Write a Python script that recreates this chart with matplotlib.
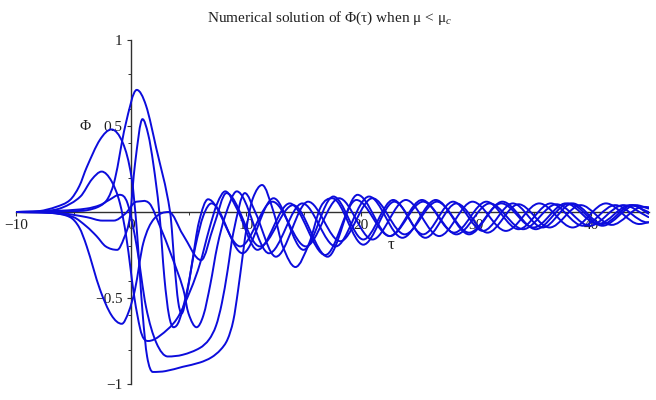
import numpy as np
import matplotlib
matplotlib.use("Agg")
import matplotlib.pyplot as plt
from matplotlib.path import Path
from matplotlib.patches import PathPatch

# ---- data (tau, Phi) ----
t1 = [-10, -8, -6.5, -5.3, -4.5, -3.85, -2.7, -1.7, -0.7, 0.05, 0.5, 1.0, 1.4, 1.9, 3.0, 4.5, 6.0, 7.0, 7.8, 8.4, 8.9, 9.3, 9.7, 10.1, 10.6, 11.4, 12.4, 13.2, 14.3, 15.5, 16.5, 17.5, 20.2, 22.9, 25.6, 28.3, 31.0, 33.7, 36.4, 39.1, 41.8, 44.5, 45]
p1 = [0, 0.005, 0.03, 0.07, 0.15, 0.26, 0.42, 0.48, 0.40, 0.20, -0.10, -0.58, -0.84, -0.93, -0.925, -0.90, -0.875, -0.845, -0.80, -0.74, -0.63, -0.46, -0.26, -0.07, 0.08, 0.157, 0.0, -0.2, -0.32, -0.18, 0.03, 0.08, -0.19, 0.06, -0.15, 0.05, -0.12, 0.045, -0.09, 0.04, -0.075, 0.03, 0.028]

t2 = [-10, -7.5, -6, -4.4, -3.4, -2.55, -1.7, -0.96, -0.4, 0.3, 0.8, 1.1, 1.5, 2.5, 4.0, 5.2, 6.0, 6.8, 7.5, 8.2, 9.2, 11.0, 13.8, 16.9, 19.6, 22.5, 25.4, 28.3, 31.2, 34.1, 37.0, 39.9, 42.8, 45]
p2 = [0, 0.005, 0.025, 0.09, 0.19, 0.235, 0.18, 0.05, -0.15, -0.5, -0.68, -0.735, -0.75, -0.72, -0.62, -0.45, -0.3, -0.1, 0.05, 0.12, 0.02, -0.22, 0.05, -0.25, 0.07, -0.14, 0.06, -0.13, 0.05, -0.10, 0.045, -0.08, 0.04, -0.03]

t3 = [-10, -6, -3.85, -2.7, -1.9, -1.0, -0.3, 0.5, 1.3, 2.2, 3.2, 4.5, 6.0, 6.8, 7.4, 7.9, 8.4, 8.9, 9.9, 10.8, 12.6, 15.4, 18.2, 21.0, 23.8, 26.6, 29.4, 32.2, 35.0, 37.8, 40.6, 43.4, 45]
p3 = [0, 0.008, 0.02, 0.04, 0.07, 0.10, 0.05, -0.2, -0.55, -0.76, -0.84, -0.83, -0.79, -0.74, -0.66, -0.53, -0.34, -0.12, 0.11, 0.0, -0.26, 0.06, -0.17, 0.08, -0.13, 0.06, -0.12, 0.05, -0.09, 0.05, -0.07, 0.04, 0.0]

t4 = [-10, -7, -5, -3.85, -2.7, -2.0, -1.4, -0.5, 0.5, 1.3, 2.2, 3.4, 3.8, 4.1, 4.4, 4.8, 5.3, 5.9, 6.7, 9.5, 12.3, 15.2, 18.1, 21.0, 23.9, 26.8, 29.7, 32.6, 35.5, 38.4, 41.3, 44.2, 45]
p4 = [0, 0.002, 0.005, 0.01, 0.035, 0.08, 0.19, 0.50, 0.71, 0.62, 0.37, 0.0, -0.32, -0.52, -0.59, -0.5, -0.3, -0.06, 0.074, -0.2, 0.06, -0.2, 0.08, -0.16, 0.07, -0.14, 0.06, -0.11, 0.05, -0.09, 0.05, -0.07, -0.06]

t5 = [-10, -7, -5, -3.85, -3.0, -2.2, -1.2, -0.6, -0.1, 0.35, 1.0, 1.5, 1.94, 2.46, 2.9, 3.3, 3.7, 4.2, 4.9, 5.6, 6.3, 7.0, 9.7, 12.4, 15.0, 17.6, 20.2, 22.8, 25.4, 28.0, 30.6, 33.2, 35.8, 38.4, 41.0, 43.6, 45]
p5 = [0, -0.005, -0.03, -0.085, -0.14, -0.2, -0.22, -0.15, -0.03, 0.28, 0.54, 0.45, 0.28, 0.0, -0.38, -0.6, -0.67, -0.63, -0.45, -0.2, -0.02, 0.05, -0.24, 0.08, -0.22, 0.09, -0.16, 0.07, -0.13, 0.06, -0.11, 0.05, -0.09, 0.05, -0.07, 0.04, -0.01]

t6 = [-10, -6, -3.85, -2.5, -1.5, -0.5, 0.5, 1.6, 2.5, 3.5, 4.55, 5.0, 5.7, 6.3, 6.9, 7.5, 8.2, 9.2, 12.0, 14.9, 17.8, 20.7, 23.6, 26.5, 29.4, 32.3, 35.2, 38.1, 41.0, 43.9, 45]
p6 = [0, -0.008, -0.03, -0.05, -0.05, -0.01, 0.06, 0.05, -0.08, -0.25, -0.45, -0.59, -0.67, -0.6, -0.42, -0.2, -0.02, 0.12, -0.24, 0.05, -0.2, 0.09, -0.15, 0.07, -0.13, 0.06, -0.1, 0.05, -0.08, 0.04, 0.02]

t7 = [-10, -7, -5.3, -4.5, -3.85, -2.7, -1.7, -0.8, -0.2, 0.35, 1.07, 2.0, 3.3, 4.5, 6.1, 7.2, 8.3, 11.2, 14.1, 17.1, 19.7, 22.5, 25.3, 28.1, 30.9, 33.7, 36.5, 39.3, 42.1, 44.9, 45]
p7 = [0, -0.005, -0.03, -0.09, -0.2, -0.45, -0.6, -0.65, -0.58, -0.45, -0.18, -0.04, 0.0, -0.13, -0.28, -0.08, 0.11, -0.2, 0.04, -0.26, 0.1, -0.14, 0.07, -0.12, 0.06, -0.1, 0.05, -0.08, 0.04, -0.06, -0.06]

series = [(t1, p1), (t2, p2), (t3, p3), (t4, p4), (t5, p5), (t6, p6), (t7, p7)]

x_ticks = [-10, 0, 10, 20, 30, 40]
y_ticks = [-1, -0.5, 0.5, 1]
y_tick_labels = ["\u22121", "\u22120.5", "0.5", "1"]
x_tick_labels = ["\u221210", "0", "10", "20", "30", "40"]


def smooth_path(xs, ys):
    """Bezier path through the read points (centred tangents, flat at extrema)."""
    x = np.asarray(xs, float)
    y = np.asarray(ys, float)
    h = np.diff(x)
    d = np.diff(y) / h
    m = np.zeros_like(x)
    m[0] = d[0]
    m[-1] = d[-1]
    for k in range(1, len(x) - 1):
        if d[k - 1] * d[k] <= 0:
            m[k] = 0.0
        else:
            m[k] = (y[k + 1] - y[k - 1]) / (x[k + 1] - x[k - 1])
    verts = [(x[0], y[0])]
    codes = [Path.MOVETO]
    for k in range(len(x) - 1):
        hk = h[k]
        verts += [(x[k] + hk / 3, y[k] + m[k] * hk / 3),
                  (x[k + 1] - hk / 3, y[k + 1] - m[k + 1] * hk / 3),
                  (x[k + 1], y[k + 1])]
        codes += [Path.CURVE4] * 3
    return Path(verts, codes)


plt.rcParams['font.family'] = ['Liberation Serif', 'DejaVu Serif']
plt.rcParams['mathtext.fontset'] = 'custom'
plt.rcParams['mathtext.rm'] = 'Liberation Serif'
plt.rcParams['mathtext.it'] = 'Liberation Serif:italic'

fig = plt.figure(figsize=(6.56, 4.0), dpi=100)
ax = fig.add_axes([16 / 656, 16 / 400, 632.5 / 656, 344 / 400])
ax.set_xlim(-10, 45)
ax.set_ylim(-1, 1)

line_color = '#0c0cdc'
for xs, ys in series:
    ax.add_patch(PathPatch(smooth_path(xs, ys), fill=False, edgecolor=line_color,
                           lw=1.4, zorder=3, capstyle='round', joinstyle='round'))

for s in ['top', 'right']:
    ax.spines[s].set_visible(False)
ax.spines['left'].set_position(('data', 0))
ax.spines['bottom'].set_position(('data', 0))
for s in ['left', 'bottom']:
    ax.spines[s].set_color('#303030')
    ax.spines[s].set_linewidth(1.0)
    ax.spines[s].set_zorder(2)

ax.set_xticks(x_ticks)
ax.set_xticklabels(x_tick_labels)
ax.set_yticks(y_ticks)
ax.set_yticklabels(y_tick_labels)
ax.set_xticks([-5, 5, 15, 25, 35], minor=True)
ax.set_yticks([-0.8, -0.6, -0.4, -0.2, 0.2, 0.4, 0.6, 0.8], minor=True)
ax.tick_params(axis='both', which='major', labelsize=11, length=3, width=0.8,
               color='#303030', labelcolor='#202020', direction='out')
ax.tick_params(axis='both', which='minor', length=2, width=0.7, color='#303030', direction='out')
ax.tick_params(axis='x', pad=2)
ax.tick_params(axis='y', pad=3)

ax.text(-4.0, 0.5, "\u03a6", fontsize=11, ha='center', va='center', color='#202020')
ax.text(22.6, -0.19, "\u03c4", fontsize=12, ha='center', va='center', color='#202020')

fig.text(0.503, 0.953, "Numerical solution of \u03a6(\u03c4) when \u03bc < \u03bc$_{\\mathit{c}}$",
         fontsize=11, ha='center', va='center', color='#202020')

fig.savefig("out.png", dpi=100)
